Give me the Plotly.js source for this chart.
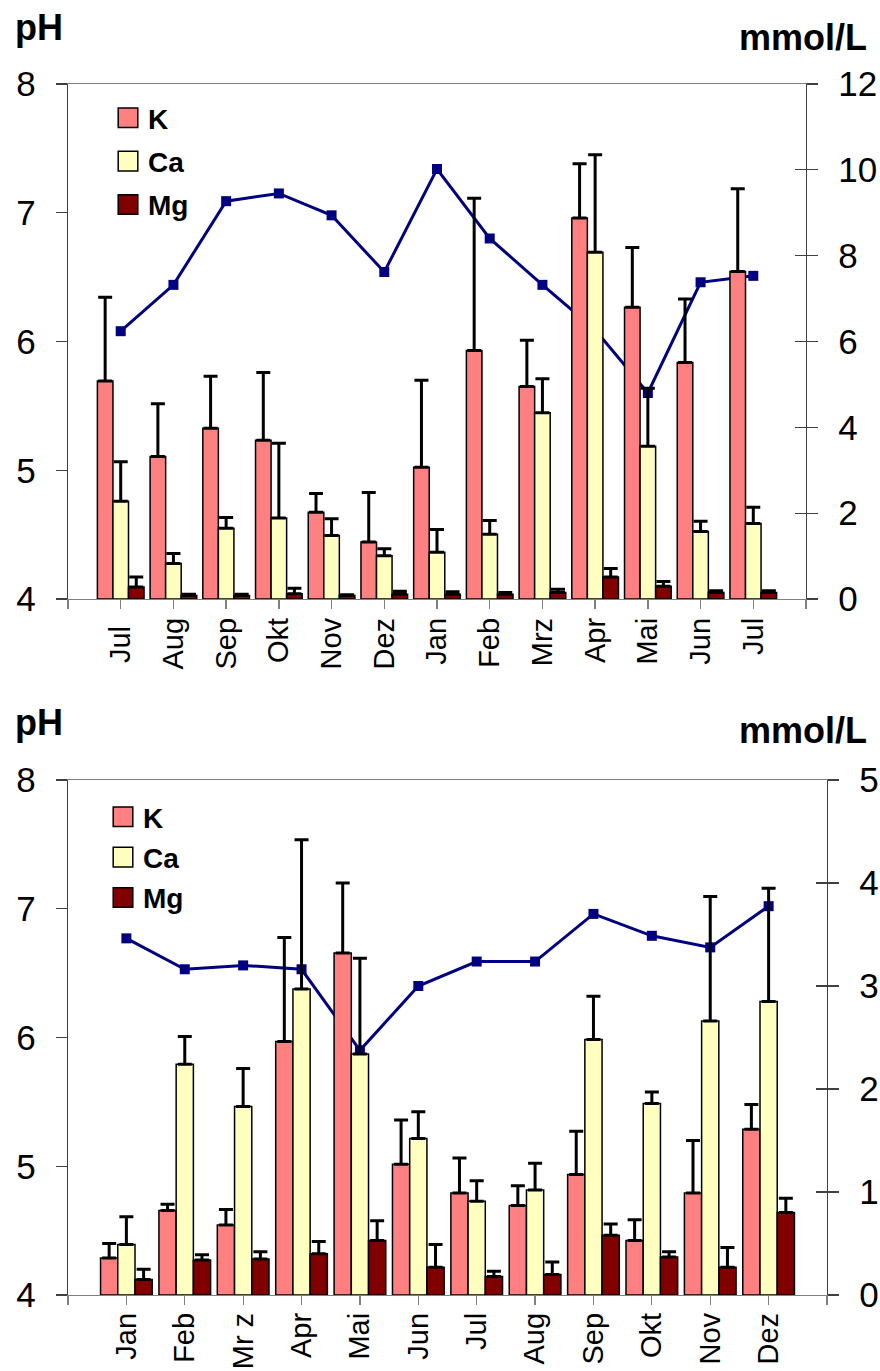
<!DOCTYPE html>
<html>
<head>
<meta charset="utf-8">
<script src="https://cdn.plot.ly/plotly-3.0.1.min.js"></script>
<style>
html,body{margin:0;padding:0;background:#fff;}
#top{width:880px;height:685px;}
#bot{width:880px;height:686px;}
</style>
</head>
<body>
<div id="top"></div>
<div id="bot"></div>
<script>
// ---------- Top chart data ----------
const monthsA = ['Jul\u00a0','Aug','Sep','Okt','Nov','Dez','Jan','Feb','Mrz','Apr','Mai','Jun','Jul'];
const pHA   = [6.08, 6.44, 7.09, 7.15, 6.98, 6.54, 7.34, 6.80, 6.44, 6.09, 5.60, 6.46, 6.51];
const kA    = [5.08, 3.32, 3.98, 3.70, 2.02, 1.33, 3.07, 5.79, 4.95, 8.88, 6.80, 5.51, 7.63];
const kSdA  = [1.95, 1.23, 1.21, 1.58, 0.44, 1.15, 2.03, 3.55, 1.08, 1.26, 1.39, 1.48, 1.93];
const caA   = [2.28, 0.83, 1.65, 1.89, 1.48, 1.01, 1.09, 1.51, 4.34, 8.08, 3.56, 1.57, 1.76];
const caSdA = [0.92, 0.23, 0.25, 1.74, 0.39, 0.16, 0.53, 0.32, 0.79, 2.27, 1.35, 0.24, 0.38];
const mgA   = [0.28, 0.08, 0.08, 0.12, 0.08, 0.11, 0.11, 0.11, 0.15, 0.51, 0.30, 0.15, 0.15];
const mgSdA = [0.23, 0.03, 0.03, 0.13, 0.02, 0.07, 0.06, 0.04, 0.08, 0.20, 0.11, 0.04, 0.04];

// ---------- Bottom chart data ----------
const monthsB = ['Jan','Feb','Mr z','Apr','Mai','Jun','Jul','Aug','Sep','Okt','Nov','Dez'];
const pHB   = [6.77, 6.53, 6.56, 6.53, 5.90, 6.40, 6.59, 6.59, 6.96, 6.79, 6.70, 7.02];
const kB    = [0.36, 0.82, 0.68, 2.46, 3.32, 1.27, 0.99, 0.87, 1.17, 0.53, 0.99, 1.61];
const kSdB  = [0.14, 0.06, 0.15, 1.01, 0.68, 0.43, 0.34, 0.19, 0.42, 0.20, 0.51, 0.24];
const caB   = [0.49, 2.24, 1.83, 2.97, 2.34, 1.52, 0.91, 1.02, 2.48, 1.86, 2.66, 2.85];
const caSdB = [0.27, 0.27, 0.37, 1.45, 0.93, 0.26, 0.20, 0.26, 0.42, 0.11, 1.21, 1.10];
const mgB   = [0.15, 0.34, 0.35, 0.40, 0.53, 0.27, 0.18, 0.20, 0.58, 0.37, 0.27, 0.80];
const mgSdB = [0.10, 0.05, 0.07, 0.12, 0.19, 0.22, 0.05, 0.12, 0.11, 0.05, 0.19, 0.14];

const seriesNames = ['K', 'Ca', 'Mg'];
const seriesColors = ['#FF8080', '#FFFFC0', '#800000'];

const FONT = 'Arial, "Liberation Sans", Helvetica, sans-serif';

function makeChart(id, cfg) {
  const n = cfg.months.length;
  const xs = cfg.months.map((_, i) => i + 1);
  const tickvals = [], ticktext = [];
  for (let i = 0; i <= n + 1; i++) { tickvals.push(i); ticktext.push(i >= 1 && i <= n ? cfg.months[i - 1] : ''); }

  const traces = [];
  traces.push({
    type: 'scatter', mode: 'lines+markers', x: xs, y: cfg.pH, yaxis: 'y', xaxis: 'x',
    line: {color: '#000080', width: 3}, marker: {symbol: 'square', size: 10, color: '#000080'},
    showlegend: false, hoverinfo: 'skip', cliponaxis: false
  });
  const vals = [cfg.k, cfg.ca, cfg.mg];
  const sds = [cfg.kSd, cfg.caSd, cfg.mgSd];
  for (let s = 0; s < 3; s++) {
    traces.push({
      type: 'bar', x: xs, y: vals[s], yaxis: 'y2', xaxis: 'x', name: seriesNames[s],
      legendgroup: seriesNames[s],
      marker: {color: seriesColors[s], line: {color: '#000', width: 1.5}},
      error_y: {type: 'data', symmetric: false, array: sds[s], arrayminus: vals[s].map(() => 0),
                color: '#000', thickness: 3, width: 7},
      hoverinfo: 'skip'
    });
  }

  const layout = {
    width: 880, height: cfg.height,
    margin: cfg.margin,
    paper_bgcolor: '#fff', plot_bgcolor: 'rgba(0,0,0,0)',
    font: {family: FONT, color: '#000'},
    barmode: 'group', bargap: 0.115, bargroupgap: 0,
    showlegend: true,
    legend: {x: cfg.legend.x, y: cfg.legend.y, xanchor: 'left', yanchor: 'top',
             bgcolor: 'rgba(0,0,0,0)', traceorder: 'grouped', tracegroupgap: cfg.legend.gap,
             font: {family: FONT, size: 28, weight: 700, color: '#000'}, itemwidth: 30},
    xaxis: {range: [0, n + 1], tickmode: 'array', tickvals: tickvals, ticktext: ticktext,
            tickangle: -90, ticks: 'outside', ticklen: 9, tickwidth: 1.3, tickcolor: '#808080',
            showline: true, linecolor: '#808080', linewidth: 1.3, mirror: true,
            showgrid: false, zeroline: false, ticklabelstandoff: cfg.xstand,
            tickfont: {family: FONT, size: 29, color: '#000'}, fixedrange: true},
    yaxis: {range: [4, 8], dtick: 1, tick0: 4, ticks: 'outside', ticklen: 11, tickwidth: 1.3,
            tickcolor: '#404040', showline: true, linecolor: '#404040', linewidth: 1.3,
            showgrid: false, zeroline: false, ticklabelstandoff: 13,
            tickfont: {family: FONT, size: 35, color: '#000'}, fixedrange: true},
    yaxis2: {range: [0, cfg.y2max], dtick: cfg.y2dtick, tick0: 0, overlaying: 'y', side: 'right',
             ticks: 'outside', ticklen: 11, tickwidth: 1.3, tickcolor: '#404040',
             showline: true, linecolor: '#404040', linewidth: 1.3,
             showgrid: false, zeroline: false, ticklabelstandoff: 13,
             tickfont: {family: FONT, size: 35, color: '#000'}, fixedrange: true},
    yaxis3: {range: [0, cfg.y2max], dtick: cfg.y2dtick, tick0: 0, overlaying: 'y', side: 'right',
             anchor: 'x', ticks: 'inside', ticklen: 11, tickwidth: 1.3, tickcolor: '#404040',
             showline: false, showgrid: false, zeroline: false, showticklabels: false, fixedrange: true},
    annotations: [
      {text: 'pH', xref: 'paper', yref: 'paper', x: cfg.ann.phx, y: cfg.ann.phy, xanchor: 'left', yanchor: 'middle',
       showarrow: false, font: {family: FONT, size: 36, weight: 700, color: '#000'}},
      {text: 'mmol/L', xref: 'paper', yref: 'paper', x: cfg.ann.mx, y: cfg.ann.my, xanchor: 'right', yanchor: 'middle',
       showarrow: false, font: {family: FONT, size: 36, weight: 700, color: '#000'}}
    ]
  };
  // invisible helper trace so the inside tick marks of the right axis are drawn
  traces.push({type: 'scatter', x: [0], y: [0], yaxis: 'y3', mode: 'markers', marker: {opacity: 0}, showlegend: false, hoverinfo: 'skip'});

  return Plotly.newPlot(id, traces, layout, {displayModeBar: false, staticPlot: true}).then(gd => {
    gd.querySelectorAll('.legend .legendpoints path').forEach(p => {
      p.setAttribute('d', 'M9.8,9.8H-9.8V-9.8H9.8Z');
    });
    return gd;
  });
}

// Top: plot area x 68..806, y 84..599
const wA = 738, hA = 515;
makeChart('top', {
  height: 685, months: monthsA, pH: pHA, k: kA, kSd: kSdA, ca: caA, caSd: caSdA, mg: mgA, mgSd: mgSdA,
  y2max: 12, y2dtick: 2, xstand: -3,
  margin: {l: 68, r: 74, t: 84, b: 86, pad: 0},
  legend: {x: (108 - 68) / wA, y: 1 - (93 - 84) / hA, gap: 4},
  ann: {phx: (13 - 68) / wA, phy: 1 + (84 - 27) / hA, mx: (869 - 68) / wA, my: 1 + (84 - 37) / hA}
});
// Bottom: plot area x 68..827, y 95..610 (div coords)
const wB = 759, hB = 515;
makeChart('bot', {
  height: 686, months: monthsB, pH: pHB, k: kB, kSd: kSdB, ca: caB, caSd: caSdB, mg: mgB, mgSd: mgSdB,
  y2max: 5, y2dtick: 1, xstand: -4,
  margin: {l: 68, r: 53, t: 95, b: 76, pad: 0},
  legend: {x: (103 - 68) / wB, y: 1 - (107 - 95) / hB, gap: 1},
  ann: {phx: (13 - 68) / wB, phy: 1 + (95 - 37) / hB, mx: (869 - 68) / wB, my: 1 + (95 - 46) / hB}
});
</script>
</body>
</html>
